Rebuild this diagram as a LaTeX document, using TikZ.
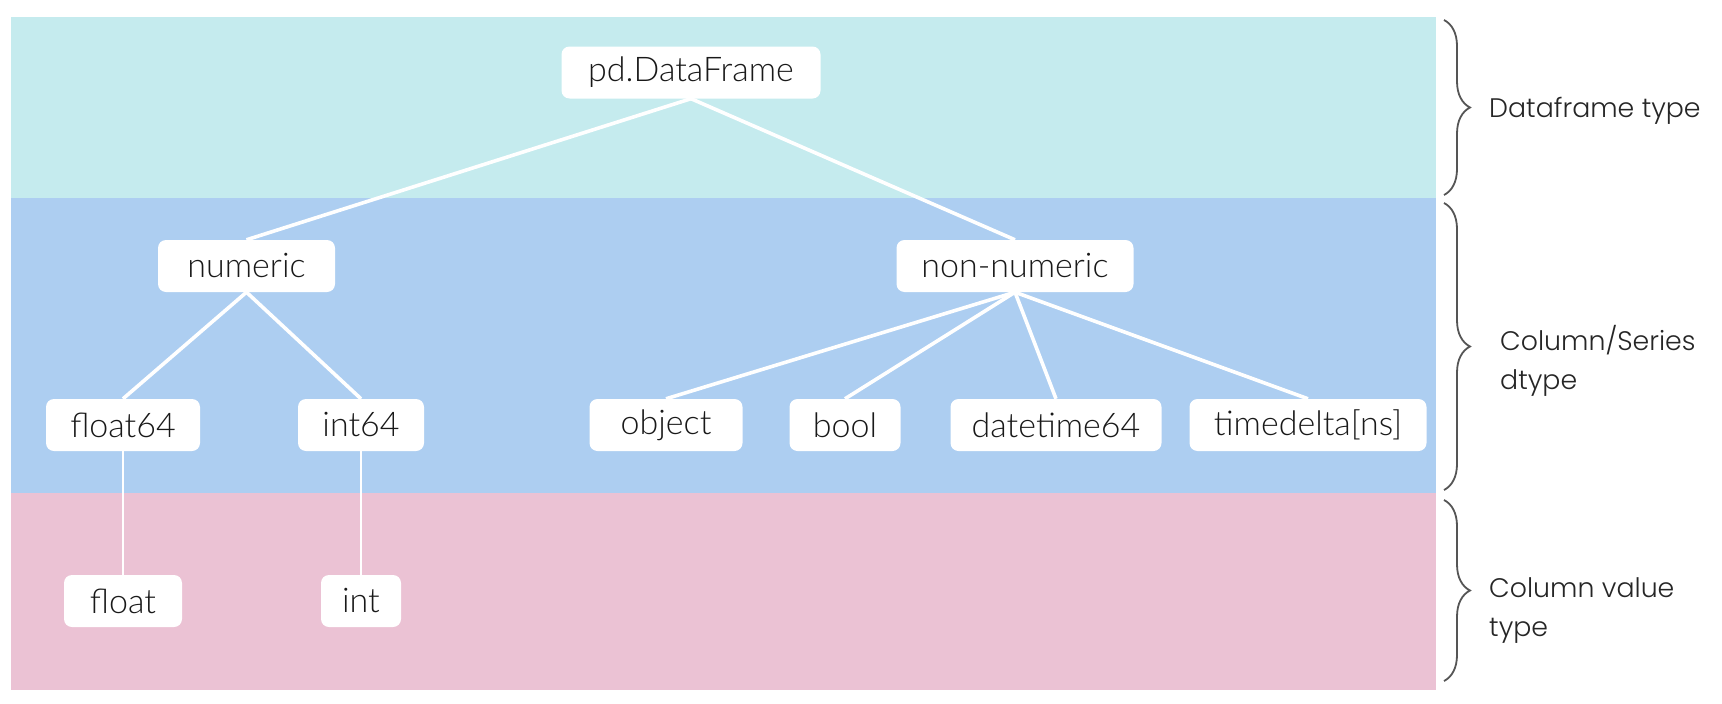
\documentclass[tikz,border=0pt]{standalone}
\usepackage{fontspec}
\setmainfont{Lato Light}
\newfontfamily\sidefont{Poppins Light}
\usetikzlibrary{decorations.pathreplacing}
\definecolor{bandcyan}{RGB}{197,235,238}
\definecolor{bandblue}{RGB}{173,206,241}
\definecolor{bandpink}{RGB}{235,194,212}
\definecolor{bracegray}{RGB}{85,85,85}
\tikzset{
  box/.style={fill=white, rounded corners=8pt, inner sep=0pt, minimum height=52pt,
    font=\fontsize{34}{40}\selectfont, text=black!90},
  link/.style={draw=white, line width=3.6pt},
  vlink/.style={draw=white, line width=2.6pt},
  bracket/.style={draw=bracegray, line width=1.8pt, decorate,
    decoration={brace, amplitude=26pt}},
  sidelabel/.style={anchor=west, align=left, inner sep=0pt,
    font=\sidefont\fontsize{26.8}{39}\selectfont, text=black!85}
}
\begin{document}
\begin{tikzpicture}[x=1pt,y=-1pt]
\useasboundingbox (0,0) rectangle (1722,704);
% bands
\fill[bandcyan] (11,16.5) rectangle (1436,198);
\fill[bandblue] (11,198) rectangle (1436,493);
\fill[bandpink] (11,493) rectangle (1436,690);
% nodes
\node[box, minimum width=259pt] (df) at (691,72.5) {pd.DataFrame};
\node[box, minimum width=177pt] (num) at (246.5,266) {numeric};
\node[box, minimum width=237pt] (non) at (1015,266) {non-numeric};
\node[box, minimum width=154pt] (f64) at (123,425) {float64};
\node[box, minimum width=126pt] (i64) at (361,425) {int64};
\node[box, minimum width=153pt] (obj) at (666,425) {object};
\node[box, minimum width=111pt] (bool) at (845,425) {bool};
\node[box, minimum width=211pt] (dt) at (1056,425) {datetime64};
\node[box, minimum width=237pt] (td) at (1308,425) {timedelta[ns]};
\node[box, minimum width=118pt] (fl) at (123,601) {float};
\node[box, minimum width=80pt] (in) at (361,601) {int};
% connectors
\draw[link] (df.south) -- (num.north);
\draw[link] (df.south) -- (non.north);
\draw[link] (num.south) -- (f64.north);
\draw[link] (num.south) -- (i64.north);
\draw[link] (non.south) -- (obj.north);
\draw[link] (non.south) -- (bool.north);
\draw[link] (non.south) -- (dt.north);
\draw[link] (non.south) -- (td.north);
\draw[vlink] (f64.south) -- (fl.north);
\draw[vlink] (i64.south) -- (in.north);
% braces
\coordinate (b1t) at (1444,20);
\coordinate (b1b) at (1444,195);
\coordinate (b2t) at (1444,203);
\coordinate (b2b) at (1444,490);
\coordinate (b3t) at (1444,500);
\coordinate (b3b) at (1444,681);
\draw[bracket] (b1t) -- (b1b);
\draw[bracket] (b2t) -- (b2b);
\draw[bracket] (b3t) -- (b3b);
% labels
\node[sidelabel] (l1) at (1489,111) {Dataframe type};
\node[sidelabel] (l2) at (1500,361) {Column/Series\\dtype};
\node[sidelabel] (l3) at (1489,611) {Column value\\type};
\end{tikzpicture}
\end{document}
